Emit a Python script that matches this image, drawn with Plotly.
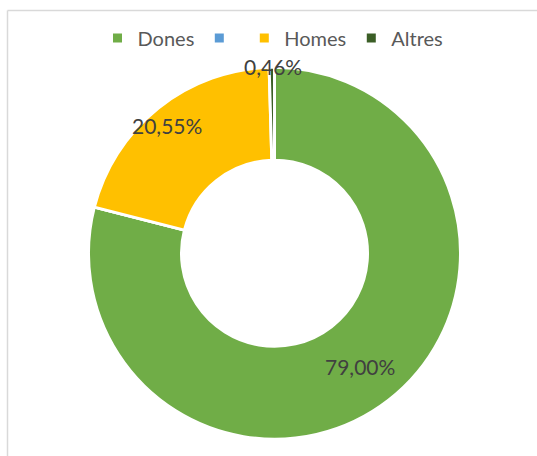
import plotly.graph_objects as go

labels = ["Dones", "\u200b", "Homes", "Altres"]
values = [79.00, 0.0, 20.55, 0.46]
colors = ["#70AD47", "#5B9BD5", "#FFC000", "#3B5E26"]

W, H = 537, 456
FONT = "Lato"

fig = go.Figure(go.Pie(
    labels=labels,
    values=values,
    sort=False,
    direction="clockwise",
    rotation=0,
    hole=0.5,
    textinfo="none",
    marker=dict(colors=colors, line=dict(color="white", width=3)),
    domain=dict(x=[88.5 / W, 460.5 / W], y=[1 - 439.5 / H, 1 - 67 / H]),
    showlegend=True,
))

# data labels (positions in pixels, text from values)
label_pos = {"Dones": (360, 366), "Homes": (167, 125), "Altres": (273, 66)}
for lab, val in zip(labels, values):
    if lab in label_pos:
        px, py = label_pos[lab]
        fig.add_annotation(
            x=px / W, y=1 - py / H, xref="paper", yref="paper",
            text=f"{val:.2f}".replace(".", ",") + "%",
            showarrow=False, xanchor="center", yanchor="middle",
            font=dict(family=FONT, size=21, color="#404040"),
        )

# chart-area border: only the top and left edges are visible in the reference
border = dict(color="#D9D9D9", width=1.5)
fig.add_shape(type="line", xref="paper", yref="paper",
              x0=7.5 / W, y0=1 - 10.5 / H, x1=1.0, y1=1 - 10.5 / H, line=border)
fig.add_shape(type="line", xref="paper", yref="paper",
              x0=7.5 / W, y0=1 - 10.5 / H, x1=7.5 / W, y1=0.0, line=border)

fig.update_layout(
    width=W, height=H,
    margin=dict(l=0, r=0, t=0, b=0),
    paper_bgcolor="white",
    plot_bgcolor="white",
    font=dict(family=FONT, color="#595959"),
    legend=dict(orientation="h", x=273 / W, xanchor="center",
                y=1 - 38 / H, yanchor="middle",
                font=dict(family=FONT, size=20, color="#595959"),
                traceorder="normal", itemclick=False),
)

fig.write_html("out.html", config={"displayModeBar": False},
               post_script="document.body.style.margin='0';document.body.style.overflow='hidden';")
